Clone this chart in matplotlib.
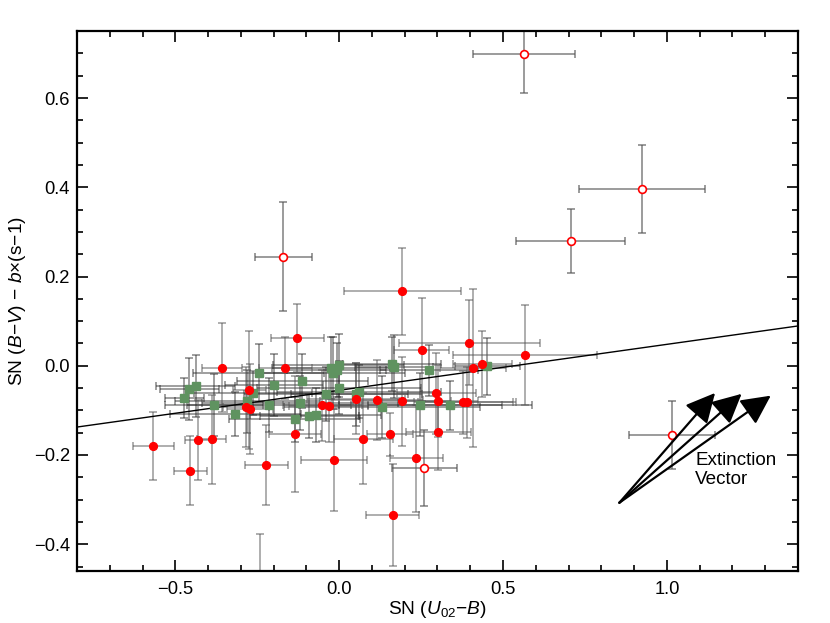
import numpy as np
import matplotlib
matplotlib.use("Agg")
import matplotlib.pyplot as plt
from matplotlib.ticker import MultipleLocator

plt.rcParams["font.family"] = ["Liberation Sans", "DejaVu Sans"]
plt.rcParams["mathtext.fontset"] = "custom"
plt.rcParams["mathtext.rm"] = "Liberation Sans"
plt.rcParams["mathtext.it"] = "Liberation Sans:italic"

# red filled: SNe in the sample
red_x = [-0.567, -0.454, -0.430, -0.389, -0.358, -0.274, -0.284, -0.272, -0.222, -0.164,
         -0.128, -0.135, -0.051, -0.032, 0.052, -0.016, 0.073, 0.116, 0.155, 0.191,
         0.193, 0.235, 0.252, 0.296, 0.303, 0.303, 0.397, 0.379, 0.389, 0.409,
         0.436, 0.567, 0.164, -0.242]
red_y = [-0.180, -0.235, -0.166, -0.165, -0.004, -0.055, -0.093, -0.097, -0.223, -0.005,
         0.062, -0.153, -0.089, -0.090, -0.074, -0.211, -0.164, -0.077, -0.154, -0.080,
         0.167, -0.207, 0.036, -0.062, -0.079, -0.148, 0.052, -0.082, -0.082, -0.005,
         0.004, 0.024, -0.335, -0.500]
red_xerr = [0.062, 0.050, 0.040, 0.045, 0.060, 0.050, 0.070, 0.070, 0.065, 0.080,
            0.081, 0.080, 0.120, 0.120, 0.150, 0.100, 0.090, 0.140, 0.070, 0.150,
            0.178, 0.081, 0.084, 0.120, 0.120, 0.100, 0.215, 0.150, 0.150, 0.100,
            0.090, 0.220, 0.081, 0.060]
red_yerr = [0.077, 0.077, 0.090, 0.100, 0.099, 0.132, 0.090, 0.100, 0.090, 0.070,
            0.077, 0.130, 0.080, 0.080, 0.080, 0.114, 0.102, 0.090, 0.048, 0.100,
            0.098, 0.120, 0.115, 0.090, 0.080, 0.085, 0.095, 0.070, 0.080, 0.177,
            0.073, 0.113, 0.114, 0.124]

# red open: outliers
open_x = [0.564, 0.924, 0.707, -0.170, 1.015, 0.260]
open_y = [0.699, 0.396, 0.280, 0.244, -0.155, -0.229]
open_xerr = [0.157, 0.193, 0.166, 0.087, 0.132, 0.100]
open_yerr = [0.087, 0.098, 0.072, 0.122, 0.077, 0.086]

# green squares
grn_x = [-0.473, -0.458, -0.438, -0.382, -0.317, -0.280, -0.262, -0.245, -0.213, -0.199,
         -0.120, -0.135, -0.112, -0.091, -0.071, -0.041, -0.026, -0.018, -0.008, -0.001,
         0.000, 0.052, 0.060, 0.131, 0.161, 0.167, 0.248, 0.275, 0.338, 0.452]
grn_y = [-0.073, -0.052, -0.045, -0.088, -0.108, -0.080, -0.061, -0.016, -0.088, -0.043,
         -0.084, -0.120, -0.034, -0.113, -0.110, -0.063, -0.005, -0.016, -0.009, 0.001,
         -0.049, -0.064, -0.058, -0.092, 0.004, -0.002, -0.087, -0.010, -0.089, -0.001]
grn_xerr = [0.060, 0.090, 0.120, 0.150, 0.200, 0.220, 0.180, 0.200, 0.250, 0.150,
            0.300, 0.200, 0.200, 0.150, 0.200, 0.250, 0.180, 0.220, 0.150, 0.200,
            0.250, 0.200, 0.250, 0.300, 0.150, 0.120, 0.250, 0.150, 0.250, 0.100]
grn_yerr = [0.045, 0.070, 0.070, 0.070, 0.050, 0.070, 0.050, 0.065, 0.060, 0.070,
            0.060, 0.050, 0.060, 0.050, 0.060, 0.060, 0.070, 0.080, 0.060, 0.070,
            0.060, 0.070, 0.060, 0.070, 0.060, 0.070, 0.070, 0.057, 0.055, 0.064]

fit_slope = 0.103
fit_intercept = -0.055

vec_start = (0.855, -0.307)
vec_tips = [(1.147, -0.061), (1.228, -0.063), (1.317, -0.067)]

fig = plt.figure(figsize=(8.3, 6.23), dpi=100)
ax = fig.add_axes([0.0928, 0.0835, 0.8686, 0.8665])
ax.set_xlim(-0.8, 1.4)
ax.set_ylim(-0.46, 0.75)

eb = dict(fmt="none", capsize=3, elinewidth=1.1, capthick=1.1)
ax.errorbar(grn_x, grn_y, xerr=grn_xerr, yerr=grn_yerr, ecolor="#222222", alpha=0.55, zorder=2, **eb)
ax.errorbar(red_x, red_y, xerr=red_xerr, yerr=red_yerr, ecolor="#555555", alpha=0.6, zorder=2, **eb)
ax.errorbar(open_x, open_y, xerr=open_xerr, yerr=open_yerr, ecolor="#555555", alpha=0.75, zorder=2, **eb)

xl = np.array([-0.8, 1.4])
ax.plot(xl, fit_intercept + fit_slope * xl, color="black", lw=1.0, zorder=3)

ax.plot(grn_x, grn_y, "s", color="#5f9360", ms=5.2, mec="#5f9360", zorder=4)
ax.plot(red_x, red_y, "o", color="red", ms=5.6, mec="red", zorder=5)
ax.plot(open_x, open_y, "o", mfc="white", mec="red", mew=1.2, ms=5.6, zorder=5)

for tip in vec_tips:
    ax.annotate("", xy=tip, xytext=vec_start,
                arrowprops=dict(arrowstyle="-|>,head_length=0.9,head_width=0.45",
                                mutation_scale=20, lw=1.6, color="black",
                                shrinkA=0, shrinkB=0), zorder=6)
ax.text(1.086, -0.194, "Extinction\nVector", fontsize=13.6, va="top", ha="left",
        linespacing=1.1)

ax.xaxis.set_major_locator(MultipleLocator(0.5))
ax.xaxis.set_minor_locator(MultipleLocator(0.1))
ax.yaxis.set_major_locator(MultipleLocator(0.2))
ax.yaxis.set_minor_locator(MultipleLocator(0.05))
ax.tick_params(which="both", direction="in", top=True, right=True, labelsize=13.2, width=1.2)
ax.tick_params(which="major", length=8)
ax.tick_params(which="minor", length=4)
ax.tick_params(axis="x", pad=7)
ax.tick_params(axis="y", pad=5)
for s in ax.spines.values():
    s.set_linewidth(1.6)

ax.set_xlabel("SN ($U_{02}$\u2212$B$)", fontsize=13.8, labelpad=1)
ax.set_ylabel("SN ($B$\u2212$V$) \u2212 $b$\u00d7(s\u22121)", fontsize=13.8, labelpad=4)

fig.savefig("out.png", dpi=100)
